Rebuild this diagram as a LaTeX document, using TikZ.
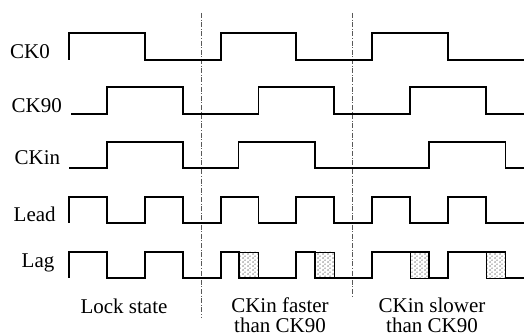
\documentclass[tikz,border=0pt]{standalone}
\usepackage{fontspec}
\setmainfont{Liberation Serif}
\usetikzlibrary{patterns.meta}

% stippled fill for the excess part of the Lag pulses
\tikzdeclarepattern{
  name=stipple,
  tile size={(4.4pt,4.4pt)},
  bounding box={(0pt,0pt) and (4.4pt,4.4pt)},
  code={
    \fill (1.1pt,1.1pt) circle (0.6pt);
    \fill (3.3pt,3.3pt) circle (0.6pt);
  }
}

\begin{document}
\begin{tikzpicture}[x=1pt,y=-1pt,
  wave/.style={line width=1.9pt, line join=miter},
  guide/.style={draw=black!65, line width=1pt,
    dash pattern=on 5pt off 1.6pt on 1pt off 1.6pt},
  excess/.style={draw=black, line width=0.7pt, pattern=stipple},
  lbl/.style={font=\fontsize{21}{19.5}\selectfont, inner sep=0pt},
  caption/.style={lbl, align=center, anchor=base},
]
\useasboundingbox (0,0) rectangle (524,336);

% separators between the three operating regions
\draw[guide] (201.8,13) -- (201.8,317);
\draw[guide] (352.9,13) -- (352.9,296);

% signal names
\node[lbl, anchor=base west] (nck0)  at (10,59)    {CK0};
\node[lbl, anchor=base west] (nck90) at (11.5,113) {CK90};
\node[lbl, anchor=base west] (nckin) at (14.5,165) {CKin};
\node[lbl, anchor=base west] (nlead) at (13.5,221.5) {Lead};
\node[lbl, anchor=base west] (nlag)  at (21.5,268) {Lag};

% CK0
\draw[wave] (69,60) -- (69,32.7) -- (144.8,32.7) -- (144.8,60) -- (220.6,60)
  -- (220.6,32.7) -- (296.4,32.7) -- (296.4,60) -- (372.2,60) -- (372.2,32.7)
  -- (448,32.7) -- (448,60) -- (524,60);

% CK90
\draw[wave] (71,114) -- (106.9,114) -- (106.9,87.3) -- (182.7,87.3) -- (182.7,114)
  -- (258.5,114) -- (258.5,87.3) -- (334.3,87.3) -- (334.3,114) -- (410.1,114)
  -- (410.1,87.3) -- (485.9,87.3) -- (485.9,114) -- (524,114);

% CKin
\draw[wave] (69,167.7) -- (106.9,167.7) -- (106.9,142.3) -- (182.7,142.3) -- (182.7,167.7)
  -- (238.5,167.7) -- (238.5,142.3) -- (315,142.3) -- (315,167.7) -- (429,167.7)
  -- (429,142.3) -- (505.5,142.3) -- (505.5,167.7) -- (524,167.7);

% Lead
\draw[wave] (69,222.7) -- (69,196.7) -- (106.9,196.7) -- (106.9,222.7) -- (144.8,222.7)
  -- (144.8,196.7) -- (182.7,196.7) -- (182.7,222.7) -- (220.6,222.7) -- (220.6,196.7)
  -- (258.5,196.7) -- (258.5,222.7) -- (296.4,222.7) -- (296.4,196.7) -- (334.3,196.7)
  -- (334.3,222.7) -- (372.2,222.7) -- (372.2,196.7) -- (410.1,196.7) -- (410.1,222.7)
  -- (448,222.7) -- (448,196.7) -- (485.9,196.7) -- (485.9,222.7) -- (524,222.7);

% Lag: stippled excess regions
\draw[excess] (239,252) rectangle (258.5,278);
\draw[excess] (315,252) rectangle (334.3,278);
\draw[excess] (410.1,252) rectangle (429,278);
\draw[excess] (485.9,252) rectangle (505.5,278);

% Lag
\draw[wave] (69,278) -- (69,252) -- (106.9,252) -- (106.9,278) -- (144.8,278)
  -- (144.8,252) -- (182.7,252) -- (182.7,278) -- (220.6,278) -- (220.6,252)
  -- (239,252) -- (239,278) -- (296.4,278) -- (296.4,252) -- (315,252)
  -- (315,278) -- (372.2,278) -- (372.2,252) -- (429,252) -- (429,278)
  -- (448,278) -- (448,252) -- (505.5,252) -- (505.5,278) -- (524,278);

% region captions (base anchor sits on the last line)
\node[caption] (tlock) at (124,313) {Lock state};
\node[caption] (tfast) at (280,332) {CKin faster\\than CK90};
\node[caption] (tslow) at (432,332) {CKin slower\\than CK90};
\end{tikzpicture}
\end{document}
